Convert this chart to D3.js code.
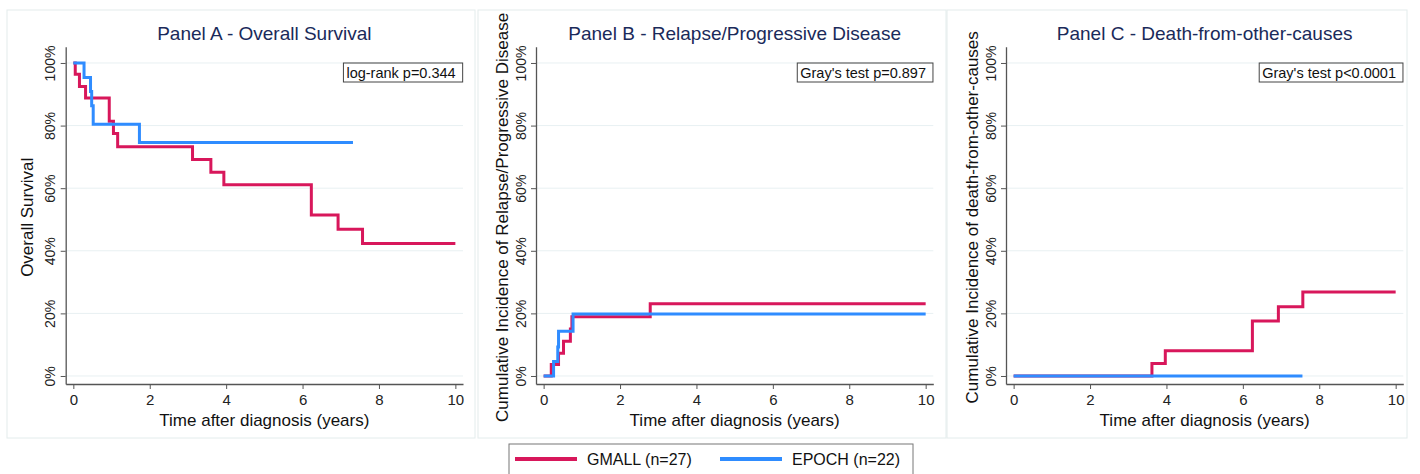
<!DOCTYPE html>
<html>
<head>
<meta charset="utf-8">
<script src="https://cdn.jsdelivr.net/npm/d3@7"></script>
<style>
  body { margin: 0; background: #fff; }
  text { font-family: "Liberation Sans", Arial, sans-serif; }
</style>
</head>
<body>
<div id="container"></div>
<script>
let w = 1420;
let h = 474;

// ---- data ----
let panelTitles = ["Panel A - Overall Survival", "Panel B - Relapse/Progressive Disease", "Panel C - Death-from-other-causes"];
let yTitles = ["Overall Survival", "Cumulative Incidence of Relapse/Progressive Disease", "Cumulative Incidence of death-from-other-causes"];
let testLabels = ["log-rank p=0.344", "Gray's test p=0.897", "Gray's test p<0.0001"];
let xTicks = [0, 2, 4, 6, 8, 10];
let yTicks = [0, 20, 40, 60, 80, 100];
let groupNames = ["GMALL (n=27)", "EPOCH (n=22)"];
let xTitle = "Time after diagnosis (years)";

// panel A: overall survival (%)
let osGmallT = [0, 0.05, 0.16, 0.32, 0.94, 1.05, 1.16, 3.12, 3.6, 3.94, 6.23, 6.93, 7.57, 10];
let osGmallV = [100, 96.4, 92.5, 88.8, 81.4, 77.5, 73.2, 69.2, 65.1, 61.1, 51.4, 46.9, 42.3, 42.3];
let osEpochT = [0, 0.28, 0.45, 0.48, 0.52, 1.73, 7.32];
let osEpochV = [100, 95.4, 90.9, 86.3, 80.4, 74.6, 74.6];

// panel B: relapse / progressive disease (%)
let relGmallT = [0, 0.2, 0.39, 0.52, 0.7, 0.74, 2.79, 10];
let relGmallV = [0, 3.7, 7.3, 11.1, 15.0, 18.9, 23.1, 23.1];
let relEpochT = [0, 0.26, 0.37, 0.39, 0.77, 10];
let relEpochV = [0, 4.6, 9.3, 14.3, 19.8, 19.8];

// panel C: death from other causes (%)
let docGmallT = [0, 3.62, 3.97, 6.25, 6.93, 7.57, 10];
let docGmallV = [0, 4.0, 8.1, 17.6, 22.1, 26.8, 26.8];
let docEpochT = [0, 7.56];
let docEpochV = [0, 0];

let seriesT = [[osGmallT, osEpochT], [relGmallT, relEpochT], [docGmallT, docEpochT]];
let seriesV = [[osGmallV, osEpochV], [relGmallV, relEpochV], [docGmallV, docEpochV]];

// ---- look ----
let colors = ["#d8175b", "#2f8cff"];
let panelBoxes = [[7, 10, 468, 428], [478, 10, 468, 428], [947, 10, 460, 428]];
let axisLeftX = [65.7, 536, 1006];
let yTitleOffset = [33, 28, 28];
let plotW = 397.3;
let axisY = 384;
let axisTop = 46.7;

let viz = d3.select("#container")
  .append("svg")
    .attr("width", w)
    .attr("height", h)
    .style("background-color", "white");

for (let p = 0; p < 3; p++) {
  let left = axisLeftX[p];
  let right = left + plotW;
  let xScale = d3.scaleLinear().domain([-0.2, 10.2]).range([left, right]);
  let yScale = d3.scaleLinear().domain([-2.56, 105.2]).range([axisY, axisTop]);

  let b = panelBoxes[p];
  viz.append("rect")
    .attr("x", b[0]).attr("y", b[1]).attr("width", b[2]).attr("height", b[3])
    .attr("fill", "none").attr("stroke", "#e3ecec").attr("stroke-width", 1);

  // grid
  viz.append("g").selectAll("line").data(yTicks).enter().append("line")
    .attr("x1", left).attr("x2", right)
    .attr("y1", d => yScale(d)).attr("y2", d => yScale(d))
    .attr("stroke", "#e8f0f2").attr("stroke-width", 1);

  // title
  viz.append("text")
    .attr("x", (left + right) / 2).attr("y", 40)
    .attr("text-anchor", "middle")
    .style("font-size", "19px").style("fill", "#1a2a5a")
    .text(panelTitles[p]);

  // axes
  let xAxis = d3.axisBottom(xScale).tickValues(xTicks).tickSize(5).tickSizeOuter(0);
  let xAxisGroup = viz.append("g").attr("transform", "translate(0," + axisY + ")").call(xAxis);
  xAxisGroup.select(".domain").attr("stroke", "#555").attr("stroke-width", 1.3);
  xAxisGroup.selectAll(".tick line").attr("stroke", "#555");
  xAxisGroup.selectAll(".tick text")
    .attr("y", 21).attr("dy", 0)
    .style("font-size", "15px").style("fill", "#222")
    .style("font-family", "'Liberation Sans', Arial, sans-serif");

  let yAxis = d3.axisLeft(yScale).tickValues(yTicks).tickSize(5).tickSizeOuter(0).tickFormat(d => d + "%");
  let yAxisGroup = viz.append("g").attr("transform", "translate(" + left + ",0)").call(yAxis);
  yAxisGroup.select(".domain").attr("stroke", "#555").attr("stroke-width", 1.3);
  yAxisGroup.selectAll(".tick line").attr("stroke", "#555");
  yAxisGroup.selectAll(".tick text")
    .attr("x", 0).attr("dy", 0)
    .attr("transform", "translate(-10.5,0) rotate(-90)")
    .attr("text-anchor", "middle")
    .style("font-size", "14px").style("fill", "#222")
    .style("font-family", "'Liberation Sans', Arial, sans-serif");

  // axis titles
  viz.append("text")
    .attr("x", (left + right) / 2).attr("y", 426)
    .attr("text-anchor", "middle")
    .style("font-size", "17px").style("fill", "#111")
    .text(xTitle);

  let ty = (axisY + axisTop) / 2 + 2;
  viz.append("text")
    .attr("transform", "translate(" + (left - yTitleOffset[p]) + "," + ty + ") rotate(-90)")
    .attr("text-anchor", "middle")
    .style("font-size", "17px").style("fill", "#111")
    .text(yTitles[p]);

  // curves
  let line = d3.line()
    .x(d => xScale(d[0]))
    .y(d => yScale(d[1]))
    .curve(d3.curveStepAfter);

  for (let g = 0; g < 2; g++) {
    let pts = seriesT[p][g].map((t, i) => [t, seriesV[p][g][i]]);
    viz.append("path")
      .datum(pts)
      .attr("d", line)
      .attr("fill", "none")
      .attr("stroke", colors[g])
      .attr("stroke-width", 3);
  }

  // test box
  let tx = xScale(10) + 7.3;
  let label = viz.append("text")
    .attr("y", 78)
    .style("font-size", "14.5px").style("fill", "#111")
    .text(testLabels[p]);
  let tw = label.node().getComputedTextLength();
  let bw = tw + 10;
  label.attr("x", tx - bw + 3);
  viz.append("rect")
    .attr("x", tx - bw).attr("y", 63).attr("width", bw).attr("height", 19)
    .attr("fill", "none").attr("stroke", "#444").attr("stroke-width", 1);
}

// bottom legend
let legend = viz.append("g");
legend.append("rect")
  .attr("x", 509).attr("y", 444).attr("width", 404).attr("height", 40)
  .attr("fill", "white").attr("stroke", "#777").attr("stroke-width", 1);
let legX = [515, 720];
for (let g = 0; g < 2; g++) {
  legend.append("line")
    .attr("x1", legX[g]).attr("x2", legX[g] + 62)
    .attr("y1", 459).attr("y2", 459)
    .attr("stroke", colors[g]).attr("stroke-width", 4);
  legend.append("text")
    .attr("x", legX[g] + 72).attr("y", 465)
    .style("font-size", "16px").style("fill", "#111")
    .text(groupNames[g]);
}
</script>
</body>
</html>
